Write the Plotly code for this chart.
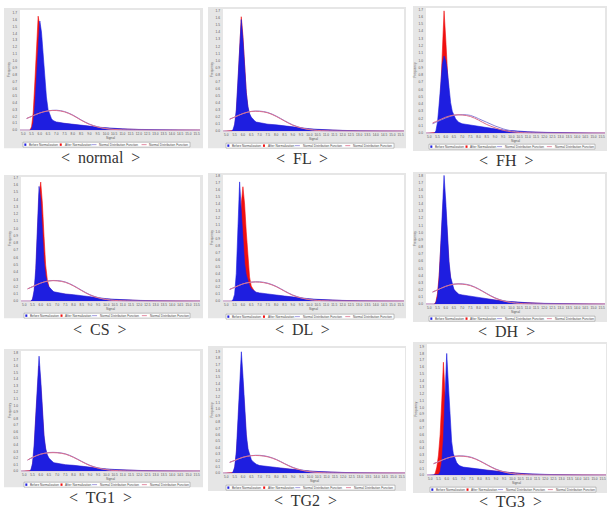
import plotly.graph_objects as go

W, H = 615, 512

# ---------------- data ----------------
signal_bins = [4.8, 5.2, 5.3, 5.4, 5.5, 5.6, 5.7, 5.8, 5.9, 6.0, 6.1, 6.2, 6.3, 6.4, 6.5,
               6.6, 6.7, 6.8, 7.0, 7.5, 8.0, 8.5, 9.0, 9.5, 10.0, 10.5, 11.0, 12.0, 13.0,
               14.0, 15.0, 15.7]
curve_signal = [5.2, 5.5, 6.0, 6.5, 7.0, 7.5, 8.0, 8.5, 9.0, 9.5, 10.0, 10.5, 11.0, 12.0,
                13.0, 14.0, 15.0, 15.7]

panel_labels = ["normal", "FL", "FH", "CS", "DL", "DH", "TG1", "TG2", "TG3"]
legend_labels = ["Before Normalization", "After Normalization",
                 "Normal Distribution Function", "Normal Distribution Function"]
x_axis_title = "Signal"
y_axis_title = "Frequency"

normal_before = [0, 0, 0, 0, 0.02, 0.1, 0.35, 0.8, 1.3, 1.58, 1.42, 1.1, 0.8, 0.48, 0.3, 0.22, 0.17, 0.14, 0.12, 0.10, 0.09, 0.075, 0.06, 0.045, 0.035, 0.027, 0.02, 0.012, 0.006, 0.003, 0.001, 0]
normal_after = [0, 0, 0, 0, 0.05, 0.25, 0.7, 1.2, 1.65, 1.5, 1.15, 0.8, 0.5, 0.3, 0.2, 0.16, 0.14, 0.12, 0.11, 0.09, 0.08, 0.065, 0.05, 0.04, 0.03, 0.02, 0.015, 0.008, 0.004, 0.002, 0, 0]
FL_before = [0, 0, 0, 0.02, 0.1, 0.3, 0.7, 1.2, 1.58, 1.3, 0.9, 0.55, 0.35, 0.25, 0.2, 0.17, 0.15, 0.13, 0.12, 0.1, 0.09, 0.075, 0.06, 0.045, 0.035, 0.027, 0.02, 0.012, 0.006, 0.003, 0.001, 0]
FL_after = [0, 0, 0, 0.01, 0.06, 0.25, 0.65, 1.2, 1.62, 1.35, 0.92, 0.55, 0.33, 0.22, 0.18, 0.15, 0.13, 0.12, 0.11, 0.09, 0.08, 0.065, 0.05, 0.04, 0.03, 0.02, 0.015, 0.008, 0.004, 0.002, 0, 0]
FH_before = [0, 0, 0, 0.03, 0.15, 0.4, 0.7, 0.95, 1.06, 1.0, 0.85, 0.6, 0.42, 0.3, 0.24, 0.2, 0.17, 0.15, 0.13, 0.11, 0.09, 0.075, 0.06, 0.045, 0.035, 0.027, 0.02, 0.012, 0.006, 0.003, 0.001, 0]
FH_after = [0, 0, 0, 0.01, 0.05, 0.2, 0.6, 1.3, 1.68, 1.3, 0.8, 0.45, 0.3, 0.2, 0.15, 0.12, 0.1, 0.09, 0.08, 0.07, 0.06, 0.05, 0.04, 0.03, 0.025, 0.02, 0.015, 0.008, 0.004, 0.002, 0, 0]
CS_before = [0, 0, 0, 0, 0.03, 0.15, 0.45, 1.0, 1.58, 1.4, 0.9, 0.55, 0.35, 0.25, 0.2, 0.17, 0.15, 0.13, 0.12, 0.1, 0.09, 0.075, 0.06, 0.045, 0.035, 0.027, 0.02, 0.012, 0.006, 0.003, 0.001, 0]
CS_after = [0, 0, 0, 0, 0.02, 0.1, 0.35, 0.9, 1.45, 1.64, 1.35, 0.9, 0.5, 0.3, 0.2, 0.16, 0.14, 0.12, 0.11, 0.09, 0.08, 0.065, 0.05, 0.04, 0.03, 0.02, 0.015, 0.008, 0.004, 0.002, 0, 0]
DL_before = [0, 0, 0, 0.02, 0.1, 0.4, 1.0, 1.72, 1.3, 0.85, 0.55, 0.38, 0.28, 0.22, 0.18, 0.16, 0.14, 0.13, 0.12, 0.1, 0.09, 0.075, 0.06, 0.045, 0.035, 0.027, 0.02, 0.012, 0.006, 0.003, 0.001, 0]
DL_after = [0, 0, 0, 0, 0.02, 0.1, 0.3, 0.8, 1.4, 1.65, 1.4, 1.0, 0.6, 0.35, 0.22, 0.17, 0.14, 0.12, 0.11, 0.09, 0.08, 0.065, 0.05, 0.04, 0.03, 0.02, 0.015, 0.008, 0.004, 0.002, 0, 0]
DH_before = [0, 0, 0, 0.02, 0.1, 0.35, 0.85, 1.4, 1.8, 1.45, 1.0, 0.6, 0.38, 0.27, 0.21, 0.18, 0.16, 0.14, 0.13, 0.11, 0.09, 0.075, 0.06, 0.045, 0.035, 0.027, 0.02, 0.012, 0.006, 0.003, 0.001, 0]
DH_after = [0, 0, 0, 0.03, 0.15, 0.4, 0.85, 1.3, 1.6, 1.3, 0.9, 0.55, 0.35, 0.25, 0.2, 0.17, 0.15, 0.13, 0.12, 0.1, 0.08, 0.07, 0.055, 0.04, 0.03, 0.025, 0.018, 0.01, 0.005, 0.002, 0, 0]
TG1_before = [0, 0, 0, 0.02, 0.12, 0.4, 0.9, 1.4, 1.75, 1.4, 0.95, 0.55, 0.35, 0.25, 0.2, 0.17, 0.15, 0.13, 0.12, 0.1, 0.09, 0.075, 0.06, 0.045, 0.035, 0.027, 0.02, 0.012, 0.006, 0.003, 0.001, 0]
TG1_after = [0, 0, 0, 0.01, 0.08, 0.3, 0.8, 1.3, 1.6, 1.3, 0.85, 0.5, 0.32, 0.22, 0.18, 0.15, 0.13, 0.12, 0.11, 0.09, 0.08, 0.065, 0.05, 0.04, 0.03, 0.02, 0.015, 0.008, 0.004, 0.002, 0, 0]
TG2_before = [0, 0, 0, 0.02, 0.1, 0.35, 0.8, 1.35, 1.9, 1.5, 1.0, 0.6, 0.38, 0.27, 0.21, 0.18, 0.16, 0.14, 0.12, 0.1, 0.09, 0.075, 0.06, 0.045, 0.035, 0.027, 0.02, 0.012, 0.006, 0.003, 0.001, 0]
TG2_after = [0, 0, 0, 0.01, 0.07, 0.28, 0.7, 1.25, 1.7, 1.35, 0.9, 0.52, 0.33, 0.23, 0.18, 0.15, 0.13, 0.12, 0.11, 0.09, 0.08, 0.065, 0.05, 0.04, 0.03, 0.02, 0.015, 0.008, 0.004, 0.002, 0, 0]
TG3_before = [0, 0, 0, 0, 0.01, 0.05, 0.2, 0.55, 1.1, 1.8, 1.35, 0.85, 0.5, 0.32, 0.24, 0.19, 0.16, 0.14, 0.12, 0.1, 0.09, 0.075, 0.06, 0.045, 0.035, 0.027, 0.02, 0.012, 0.006, 0.003, 0.001, 0]
TG3_after = [0, 0, 0.03, 0.12, 0.3, 0.6, 1.1, 1.67, 1.2, 0.75, 0.45, 0.3, 0.22, 0.18, 0.15, 0.13, 0.12, 0.11, 0.1, 0.09, 0.08, 0.065, 0.05, 0.04, 0.03, 0.02, 0.015, 0.008, 0.004, 0.002, 0, 0]

normal_curve_before = [0.17, 0.2, 0.25, 0.28, 0.29, 0.27, 0.22, 0.15, 0.09, 0.05, 0.025, 0.012, 0.005, 0.001, 0, 0, 0, 0]
normal_curve_after = [0.17, 0.2, 0.25, 0.28, 0.285, 0.265, 0.215, 0.145, 0.085, 0.047, 0.023, 0.011, 0.005, 0.001, 0, 0, 0, 0]
FL_curve_before = [0.17, 0.2, 0.25, 0.28, 0.285, 0.265, 0.215, 0.15, 0.09, 0.05, 0.025, 0.012, 0.005, 0.001, 0, 0, 0, 0]
FL_curve_after = [0.17, 0.2, 0.25, 0.28, 0.28, 0.26, 0.21, 0.145, 0.085, 0.047, 0.023, 0.011, 0.005, 0.001, 0, 0, 0, 0]
FH_curve_before = [0.13, 0.16, 0.21, 0.245, 0.255, 0.245, 0.2, 0.15, 0.1, 0.06, 0.03, 0.015, 0.007, 0.001, 0, 0, 0, 0]
FH_curve_after = [0.14, 0.17, 0.22, 0.25, 0.25, 0.23, 0.18, 0.12, 0.075, 0.04, 0.02, 0.01, 0.004, 0.001, 0, 0, 0, 0]
CS_curve_before = [0.17, 0.2, 0.25, 0.28, 0.285, 0.265, 0.215, 0.15, 0.09, 0.05, 0.025, 0.012, 0.005, 0.001, 0, 0, 0, 0]
CS_curve_after = [0.17, 0.2, 0.25, 0.28, 0.28, 0.26, 0.21, 0.145, 0.085, 0.047, 0.023, 0.011, 0.005, 0.001, 0, 0, 0, 0]
DL_curve_before = [0.17, 0.2, 0.25, 0.275, 0.28, 0.26, 0.215, 0.15, 0.09, 0.05, 0.025, 0.012, 0.005, 0.001, 0, 0, 0, 0]
DL_curve_after = [0.17, 0.2, 0.25, 0.275, 0.275, 0.255, 0.21, 0.145, 0.085, 0.047, 0.023, 0.011, 0.005, 0.001, 0, 0, 0, 0]
DH_curve_before = [0.17, 0.2, 0.25, 0.28, 0.285, 0.265, 0.215, 0.15, 0.09, 0.05, 0.025, 0.012, 0.005, 0.001, 0, 0, 0, 0]
DH_curve_after = [0.17, 0.2, 0.25, 0.28, 0.28, 0.26, 0.21, 0.145, 0.085, 0.047, 0.023, 0.011, 0.005, 0.001, 0, 0, 0, 0]
TG1_curve_before = [0.17, 0.21, 0.26, 0.285, 0.285, 0.265, 0.215, 0.15, 0.09, 0.05, 0.025, 0.012, 0.005, 0.001, 0, 0, 0, 0]
TG1_curve_after = [0.17, 0.21, 0.26, 0.28, 0.28, 0.26, 0.21, 0.145, 0.085, 0.047, 0.023, 0.011, 0.005, 0.001, 0, 0, 0, 0]
TG2_curve_before = [0.17, 0.2, 0.25, 0.275, 0.28, 0.26, 0.215, 0.15, 0.09, 0.05, 0.025, 0.012, 0.005, 0.001, 0, 0, 0, 0]
TG2_curve_after = [0.17, 0.2, 0.25, 0.275, 0.275, 0.255, 0.21, 0.145, 0.085, 0.047, 0.023, 0.011, 0.005, 0.001, 0, 0, 0, 0]
TG3_curve_before = [0.17, 0.2, 0.25, 0.28, 0.285, 0.265, 0.215, 0.15, 0.09, 0.05, 0.025, 0.012, 0.005, 0.001, 0, 0, 0, 0]
TG3_curve_after = [0.17, 0.2, 0.25, 0.28, 0.28, 0.26, 0.21, 0.145, 0.085, 0.047, 0.023, 0.011, 0.005, 0.001, 0, 0, 0, 0]

before_series = [normal_before, FL_before, FH_before, CS_before, DL_before, DH_before, TG1_before, TG2_before, TG3_before]
after_series = [normal_after, FL_after, FH_after, CS_after, DL_after, DH_after, TG1_after, TG2_after, TG3_after]
curve_before_series = [normal_curve_before, FL_curve_before, FH_curve_before, CS_curve_before, DL_curve_before,
                       DH_curve_before, TG1_curve_before, TG2_curve_before, TG3_curve_before]
curve_after_series = [normal_curve_after, FL_curve_after, FH_curve_after, CS_curve_after, DL_curve_after,
                      DH_curve_after, TG1_curve_after, TG2_curve_after, TG3_curve_after]
y_max = [1.74, 1.73, 1.72, 1.71, 1.82, 1.82, 1.83, 1.96, 1.94]

# ---------------- layout geometry (pixels) ----------------
# plot L, R, T, B ; gray box left, right, top, bottom ; legend top ; label x, y
boxes = [
    (20, 200, 9, 130, 4, 203, 7, 148, 142, 100, 157),
    (223, 404, 8, 131, 208, 406, 6, 148, 143, 302, 158),
    (426, 605, 7, 133, 413, 607, 5, 151, 144, 506, 160),
    (21, 200, 177, 302, 4, 203, 175, 319, 314, 100, 330),
    (223, 404, 175, 302, 208, 406, 173, 319, 315, 302, 330),
    (426, 605, 174, 305, 413, 607, 172, 323, 317, 506, 332),
    (21, 200, 352, 473, 4, 203, 350, 489, 484, 100, 499),
    (223, 405, 349, 475, 208, 406, 347, 493, 487, 305, 502),
    (427, 606, 345, 477, 413, 607, 343, 495, 489, 510, 503),
]

BLUE = "#1e1ee0"
RED = "#f01010"
CURVE_BLUE = "rgb(140,130,215)"
CURVE_RED = "rgb(220,110,140)"
TXT = "#555555"
TINY = 3.2


def px(x):
    return x / W


def py(y):
    return 1 - y / H


fig = go.Figure()
shapes = []
annotations = []
layout = {}

for i, (L, R, T, B, gl, gr, gt, gb, lt, lx, ly) in enumerate(boxes):
    n = "" if i == 0 else str(i + 1)
    xa, ya = "x" + n, "y" + n
    # panel background
    shapes.append(dict(type="rect", xref="paper", yref="paper", x0=px(gl), x1=px(gr), y0=py(gb), y1=py(gt),
                       fillcolor="#e6e6e6", line=dict(width=0), layer="below"))
    shapes.append(dict(type="rect", xref="paper", yref="paper", x0=px(L), x1=px(R), y0=py(B), y1=py(T),
                       fillcolor="white", line=dict(width=0), layer="below"))

    fig.add_trace(go.Scatter(x=signal_bins, y=after_series[i], mode="lines", fill="tozeroy",
                             line=dict(color=RED, width=0.6), fillcolor=RED, xaxis=xa, yaxis=ya,
                             showlegend=False, hoverinfo="skip"))
    fig.add_trace(go.Scatter(x=signal_bins, y=before_series[i], mode="lines", fill="tozeroy",
                             line=dict(color=BLUE, width=0.6), fillcolor=BLUE, xaxis=xa, yaxis=ya,
                             showlegend=False, hoverinfo="skip"))
    fig.add_trace(go.Scatter(x=curve_signal, y=curve_before_series[i], mode="lines",
                             line=dict(color=CURVE_BLUE, width=1, shape="spline"), xaxis=xa, yaxis=ya,
                             showlegend=False, hoverinfo="skip"))
    fig.add_trace(go.Scatter(x=curve_signal, y=curve_after_series[i], mode="lines",
                             line=dict(color=CURVE_RED, width=1, shape="spline"), xaxis=xa, yaxis=ya,
                             showlegend=False, hoverinfo="skip"))

    layout["xaxis" + n] = dict(domain=[px(L), px(R)], anchor=ya, range=[4.8, 15.7],
                               tick0=5.0, dtick=0.5, tickformat=".1f", showgrid=False, zeroline=False,
                               showline=False, ticks="", tickangle=0, tickfont=dict(size=TINY, color=TXT),
                               ticklabelstandoff=1)
    layout["yaxis" + n] = dict(domain=[py(B), py(T)], anchor=xa, range=[0, y_max[i]],
                               tick0=0, dtick=0.1, tickformat=".1f", showgrid=False, zeroline=False,
                               showline=False, ticks="", tickfont=dict(size=TINY, color=TXT),
                               ticklabelstandoff=2)

    # axis titles
    annotations.append(dict(x=px((L + R) / 2), y=py(B + 8.3), xref="paper", yref="paper", text=x_axis_title,
                            showarrow=False, font=dict(size=TINY, color=TXT), xanchor="center", yanchor="middle"))
    annotations.append(dict(x=px(L - 11), y=py((T + B) / 2), xref="paper", yref="paper", text=y_axis_title,
                            showarrow=False, font=dict(size=TINY, color=TXT), textangle=-90,
                            xanchor="center", yanchor="middle"))

    # legend box
    bx0, bx1 = L + 3, R - 10
    bw = bx1 - bx0
    shapes.append(dict(type="rect", xref="paper", yref="paper", x0=px(bx0), x1=px(bx1), y0=py(lt + 5),
                       y1=py(lt), fillcolor="white", line=dict(color="#888888", width=0.5)))
    ymid = lt + 2.5
    items = [(0.008, BLUE, "sq"), (0.22, RED, "sq"), (0.41, CURVE_BLUE, "ln"), (0.71, CURVE_RED, "ln")]
    for (fx, col, kind), lab in zip(items, legend_labels):
        sx = bx0 + fx * bw
        if kind == "sq":
            shapes.append(dict(type="rect", xref="paper", yref="paper", x0=px(sx), x1=px(sx + 2),
                               y0=py(ymid + 1.2), y1=py(ymid - 1.2), fillcolor=col, line=dict(width=0)))
            tx = sx + 2.8
        else:
            shapes.append(dict(type="line", xref="paper", yref="paper", x0=px(sx), x1=px(sx + 5),
                               y0=py(ymid), y1=py(ymid), line=dict(color=col, width=0.8)))
            tx = sx + 5.8
        annotations.append(dict(x=px(tx), y=py(ymid), xref="paper", yref="paper", text=lab, showarrow=False,
                                font=dict(size=3.1, color="#444444"), xanchor="left", yanchor="middle"))

    # panel caption
    annotations.append(dict(x=px(lx), y=py(ly), xref="paper", yref="paper",
                            text="&lt;  " + panel_labels[i] + "  &gt;", showarrow=False,
                            font=dict(size=16, color="#333333", family="Liberation Serif"),
                            xanchor="center", yanchor="middle"))

fig.update_layout(width=W, height=H, margin=dict(l=0, r=0, t=0, b=0),
                  paper_bgcolor="white", plot_bgcolor="rgba(0,0,0,0)",
                  font=dict(family="Liberation Sans"), showlegend=False,
                  shapes=shapes, annotations=annotations, **layout)

fig.write_html("out.html")
